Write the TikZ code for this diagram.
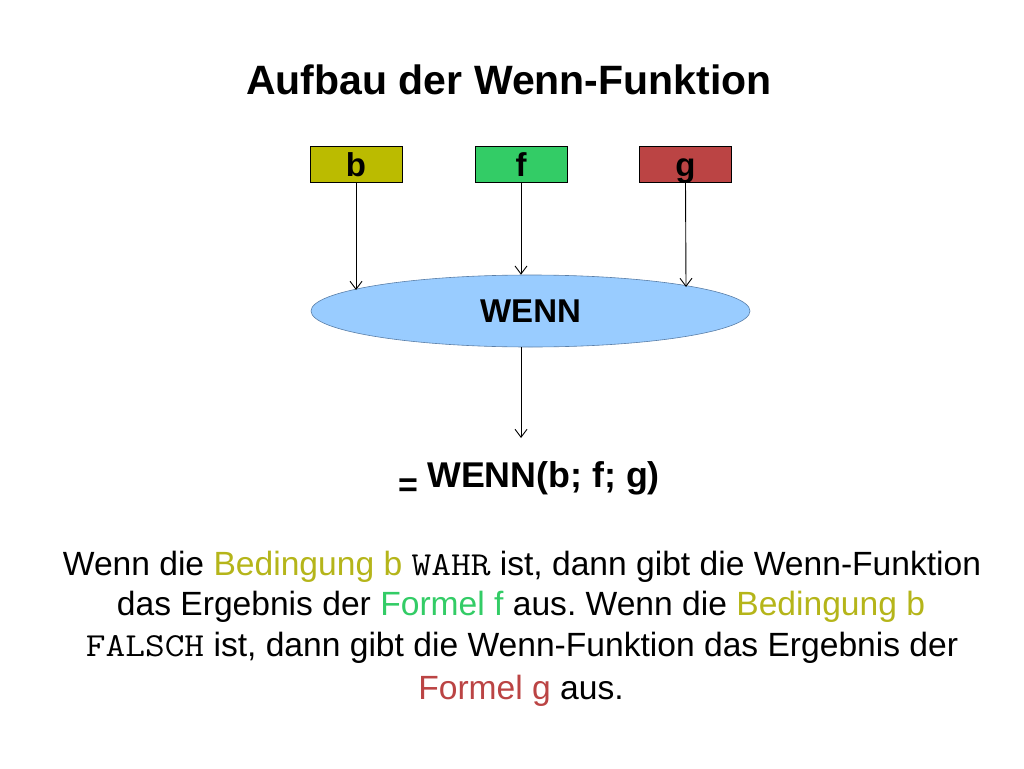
\documentclass[tikz,border=0pt]{standalone}
\usepackage{fontspec}
\setmainfont{Liberation Sans}
\setmonofont[FakeStretch=1.14]{Latin Modern Mono}
\usetikzlibrary{arrows.meta,shapes.geometric}
\frenchspacing
\definecolor{colb}{HTML}{BBBB00}
\definecolor{colf}{HTML}{33CC66}
\definecolor{colg}{HTML}{BB4444}
\definecolor{txb}{HTML}{B5B51A}
\definecolor{txf}{HTML}{33CC66}
\definecolor{txg}{HTML}{BB4444}
\definecolor{ellfill}{HTML}{99CCFF}
\definecolor{elldraw}{HTML}{5A7FA8}
\tikzset{
  param/.style={draw=black, line width=0.8pt, minimum width=92pt, text height=30pt, text depth=6pt, inner sep=0pt, font=\fontsize{33}{33}\selectfont\bfseries},
  conn/.style={-{Straight Barb[length=8pt,width=12pt]}, line width=0.9pt},
  txt/.style={font=\fontsize{33.6}{36}\selectfont, inner sep=0pt, anchor=base},
}
\begin{document}
\begin{tikzpicture}[x=1pt,y=-1pt]
\useasboundingbox (0,0) rectangle (1024,768);
\node[font=\fontsize{41}{41}\selectfont\bfseries, inner sep=0pt, anchor=base] (title) at (509,94) {Aufbau der Wenn-Funktion};
\node[param, fill=colb] (b) at (356,164) {b};
\node[param, fill=colf] (f) at (521,164) {f};
\node[param, fill=colg] (g) at (685.5,164) {g};
\node[ellipse, fill=ellfill, draw=elldraw, line width=0.6pt, minimum width=439pt, minimum height=72pt, inner sep=0pt, font=\fontsize{33}{33}\selectfont\bfseries] (wenn) at (530.5,311) {WENN};
\coordinate (bt) at (356,290);
\coordinate (gt) at (686,287);
\coordinate (res) at (521,438);
\draw[conn] (b.south) -- (bt);
\draw[conn] (f.south) -- (f.south |- wenn.north);
\draw[conn] (g.south) -- (gt);
\draw[conn] (wenn.south -| res) -- (res);
\node[font=\fontsize{34}{34}\selectfont\bfseries, inner sep=0pt, anchor=base] (eq) at (408,496) {=};
\node[font=\fontsize{35.8}{36}\selectfont\bfseries, inner sep=0pt, anchor=base west] (formula) at (427,487) {WENN(b; f; g)};
\node[txt] (l1) at (522,575) {Wenn die \textcolor{txb}{Bedingung b} \texttt{WAHR} ist, dann gibt die Wenn-Funktion};
\node[txt] (l2) at (521,615) {das Ergebnis der \textcolor{txf}{Formel f} aus. Wenn die \textcolor{txb}{Bedingung b}};
\node[txt] (l3) at (522,656) {\texttt{FALSCH} ist, dann gibt die Wenn-Funktion das Ergebnis der};
\node[txt] (l4) at (521,699) {\textcolor{txg}{Formel g} aus.};
\end{tikzpicture}
\end{document}
